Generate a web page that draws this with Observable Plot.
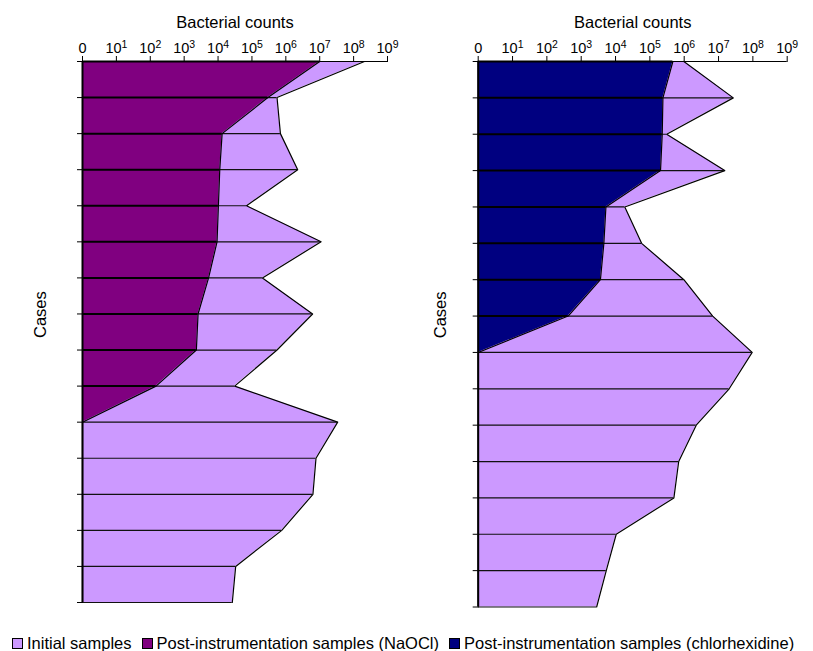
<!DOCTYPE html>
<html><head><meta charset="utf-8">
<script src="https://cdn.jsdelivr.net/npm/d3@7"></script>
<script src="https://cdn.jsdelivr.net/npm/@observablehq/plot@0.6"></script>
<style>
body{margin:0;background:#fff;font-family:"Liberation Sans",Arial,sans-serif;}
#wrap{position:relative;width:813px;height:651px;overflow:hidden;}
#left{position:absolute;left:0;top:0}
#right{position:absolute;left:400px;top:0}
#legend{position:absolute;left:12px;top:634px;display:flex;align-items:center;font-size:16.5px;color:#000;white-space:nowrap;}
#legend .sw{width:9px;height:9px;border:1.5px solid #000;margin-right:4px;}
#legend .it{display:flex;align-items:center;margin-right:10px;}
</style></head>
<body><div id="wrap"><div id="left"></div><div id="right"></div><div id="legend"></div></div>
<script>
// Data: log10 of bacterial counts per case (0 = no count)
const cases = [1,2,3,4,5,6,7,8,9,10,11,12,13,14,15,16];
const tickValues = [0,1,2,3,4,5,6,7,8,9];
const tickLabels = ["0","10¹","10²","10³","10⁴","10⁵","10⁶","10⁷","10⁸","10⁹"];
const naoclInitial = [8.32,5.74,5.84,6.35,4.84,7.04,5.31,6.79,5.74,4.49,7.53,6.89,6.80,5.88,4.52,4.42];
const naoclPost    = [7.00,5.47,4.12,4.05,4.01,3.97,3.72,3.41,3.36,2.17,0,0,0,0,0,0];
const chxInitial   = [5.99,7.43,5.49,7.18,4.27,4.76,5.99,6.83,7.98,7.31,6.35,5.84,5.70,4.02,3.73,3.45];
const chxPost      = [5.67,5.38,5.36,5.31,3.72,3.66,3.56,2.62,0,0,0,0,0,0,0,0];
const seriesNames = ["Initial samples","Post-instrumentation samples (NaOCl)","Post-instrumentation samples (chlorhexidine)"];
const seriesColors = ["#CC99FF","#800080","#000080"];
const supMap = {"¹":"1","²":"2","³":"3","⁴":"4","⁵":"5","⁶":"6","⁷":"7","⁸":"8","⁹":"9"};

function panel(initial, post, postColor, o) {
  const rows = cases.map((c, i) => ({case: c, initial: initial[i], post: post[i]}));
  const svg = Plot.plot({
    width: o.width, height: 615,
    marginLeft: o.ml, marginRight: o.mr, marginTop: 61, marginBottom: o.mb,
    style: {fontFamily: '"Liberation Sans", Arial, sans-serif', fontSize: "14px", color: "#000", background: "transparent", overflow: "visible"},
    x: {domain: [0, 9]},
    y: {domain: [1, 16], reverse: true},
    marks: [
      Plot.areaX(rows, {x: "initial", y: "case", fill: seriesColors[0]}),
      Plot.lineX(rows, {x: "initial", y: "case", stroke: "#000", strokeWidth: 1.2}),
      Plot.ruleY(rows, {y: "case", x1: 0, x2: "initial", stroke: "#111", strokeWidth: 1.2}),
      Plot.areaX(rows, {x: "post", y: "case", fill: postColor}),
      Plot.lineX(rows, {x: "post", y: "case", stroke: "#000", strokeWidth: 1.2}),
      Plot.ruleY(rows.filter(d => d.post > 0), {y: "case", x1: 0, x2: "post", stroke: "#000", strokeWidth: 2}),
      Plot.ruleY([1], {stroke: "#000", strokeWidth: 1.2}),
      Plot.ruleX([0], {y1: 1, y2: 16, stroke: "#000", strokeWidth: 2}),
      Plot.axisX({anchor: "top", ticks: tickValues, tickFormat: (d) => tickLabels[d], tickSize: 6, tickPadding: 3, label: null}),
      Plot.axisY({ticks: cases, tickSize: 5, tickFormat: () => "", label: null}),
      Plot.text(["Bacterial counts"], {text: d => d, frameAnchor: "top", dy: -45, fontSize: 16.5}),
      Plot.text(["Cases"], {text: d => d, frameAnchor: "left", dx: o.cdx, dy: o.cdy, rotate: -90, fontSize: 16.5})
    ]
  });
  // tick labels: exponents as raised tspans
  d3.select(svg).selectAll("text").each(function() {
    const t = this.textContent;
    if (!tickLabels.includes(t)) return;
    const el = d3.select(this).style("font-size", "14.5px");
    if (t.length === 3 && supMap[t[2]]) {
      el.text(null);
      el.append("tspan").text("10");
      el.append("tspan").attr("dy", "-4.5").style("font-size", "10.5px").text(supMap[t[2]]);
    }
  });
  return svg;
}

document.getElementById("left").append(panel(naoclInitial, naoclPost, seriesColors[1], {width: 400, ml: 82, mr: 13, mb: 13, cdx: -42, cdy: 6}));
document.getElementById("right").append(panel(chxInitial, chxPost, seriesColors[2], {width: 413, ml: 77.7, mr: 26.3, mb: 8.5, cdx: -37.7, cdy: 4}));

const leg = document.getElementById("legend");
seriesNames.forEach((n, i) => {
  const it = document.createElement("div"); it.className = "it";
  const sw = document.createElement("div"); sw.className = "sw"; sw.style.background = seriesColors[i];
  const tx = document.createElement("span"); tx.textContent = n;
  it.append(sw, tx); leg.append(it);
});
</script>
</body></html>
